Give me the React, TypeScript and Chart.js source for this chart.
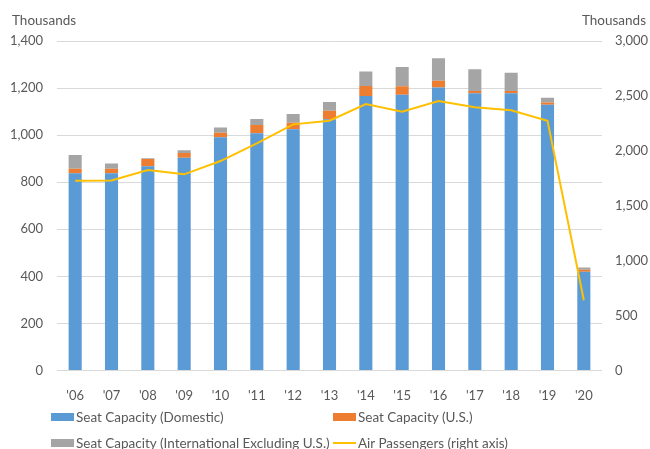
import React, { useEffect, useRef } from 'react';
import { Chart, registerables } from 'chart.js';

Chart.register(...registerables);

const years = ["'06", "'07", "'08", "'09", "'10", "'11", "'12", "'13", "'14", "'15", "'16", "'17", "'18", "'19", "'20"];
const seatDomestic = [838, 838, 868, 904, 991, 1008, 1025, 1067, 1166, 1172, 1202, 1178, 1178, 1129, 420];
const seatUS = [19, 19, 31, 20, 19, 35, 28, 37, 43, 36, 29, 10, 10, 10, 8];
const seatIntl = [59, 22, 3, 12, 23, 26, 37, 37, 61, 82, 96, 92, 77, 20, 10];
const airPassengers = [1728, 1730, 1825, 1786, 1907, 2068, 2241, 2274, 2426, 2356, 2454, 2396, 2369, 2274, 640];

const legendItems = [
  { label: 'Seat Capacity (Domestic)', color: '#5B9BD5', kind: 'box' },
  { label: 'Seat Capacity (U.S.)', color: '#ED7D31', kind: 'box' },
  { label: 'Seat Capacity (International Excluding U.S.)', color: '#A5A5A5', kind: 'box' },
  { label: 'Air Passengers (right axis)', color: '#FFC000', kind: 'line' },
];

const FONT = 'Lato, "Liberation Sans", sans-serif';
const TEXT = '#595959';

export default function App() {
  const ref = useRef<HTMLCanvasElement>(null);

  useEffect(() => {
    document.body.style.margin = '0';
    const chart = new Chart(ref.current!, {
      type: 'bar',
      data: {
        labels: years,
        datasets: [
          { type: 'bar', label: legendItems[0].label, data: seatDomestic, backgroundColor: '#5B9BD5', yAxisID: 'y', order: 1, barPercentage: 0.36, categoryPercentage: 1 },
          { type: 'bar', label: legendItems[1].label, data: seatUS, backgroundColor: '#ED7D31', yAxisID: 'y', order: 1, barPercentage: 0.36, categoryPercentage: 1 },
          { type: 'bar', label: legendItems[2].label, data: seatIntl, backgroundColor: '#A5A5A5', yAxisID: 'y', order: 1, barPercentage: 0.36, categoryPercentage: 1 },
          { type: 'line', label: legendItems[3].label, data: airPassengers, borderColor: '#FFC000', backgroundColor: '#FFC000', borderWidth: 2, pointRadius: 0, tension: 0, yAxisID: 'y1', order: 0 },
        ] as any,
      },
      options: {
        animation: false,
        responsive: false,
        maintainAspectRatio: false,
        layout: { padding: { top: 41, bottom: 48.5, left: 0, right: 0 } },
        plugins: { legend: { display: false }, tooltip: { enabled: false } },
        scales: {
          x: {
            stacked: true,
            grid: { display: false },
            border: { display: false },
            ticks: { padding: 10, color: TEXT, font: { family: FONT, size: 13 } },
            afterFit: (s: any) => { s.height = 30; },
          },
          y: {
            position: 'left',
            stacked: true,
            min: 0,
            max: 1400,
            grid: { color: '#D9D9D9', drawTicks: false },
            border: { display: false },
            ticks: { stepSize: 200, padding: 14, color: TEXT, font: { family: FONT, size: 13 }, callback: (v: any) => Number(v).toLocaleString('en-US') },
            afterFit: (s: any) => { s.width = 57; },
          },
          y1: {
            position: 'right',
            stacked: false,
            min: 0,
            max: 3000,
            grid: { display: false, drawTicks: false },
            border: { display: false },
            ticks: { stepSize: 500, padding: 13, color: TEXT, font: { family: FONT, size: 13 }, callback: (v: any) => Number(v).toLocaleString('en-US') },
            afterFit: (s: any) => { s.width = 48; },
          },
        },
      } as any,
    });
    return () => chart.destroy();
  }, []);

  const textStyle: React.CSSProperties = { position: 'absolute', fontFamily: FONT, fontSize: 13, color: TEXT, lineHeight: '16px', whiteSpace: 'nowrap' };
  const positions = [
    { x: 51, y: 417 },
    { x: 333, y: 417 },
    { x: 51, y: 443 },
    { x: 333, y: 443 },
  ];

  return (
    <div style={{ position: 'fixed', left: 0, top: 0, width: 650, height: 449, background: '#fff' }}>
      <canvas ref={ref} width={650} height={449} style={{ position: 'absolute', left: 0, top: 0 }} />
      <div style={{ ...textStyle, left: 12, top: 12, fontSize: 13.5 }}>Thousands</div>
      <div style={{ ...textStyle, right: 4, top: 12, fontSize: 13.5 }}>Thousands</div>
      {legendItems.map((it, i) => {
        const p = positions[i];
        return (
          <div key={it.label}>
            {it.kind === 'box' ? (
              <div style={{ position: 'absolute', left: p.x, top: p.y - 4, width: 23, height: 8, background: it.color }} />
            ) : (
              <div style={{ position: 'absolute', left: p.x, top: p.y - 1, width: 23, height: 2, background: it.color }} />
            )}
            <div style={{ ...textStyle, left: p.x + 25, top: p.y - 8, fontSize: 13.5 }}>{it.label}</div>
          </div>
        );
      })}
    </div>
  );
}
